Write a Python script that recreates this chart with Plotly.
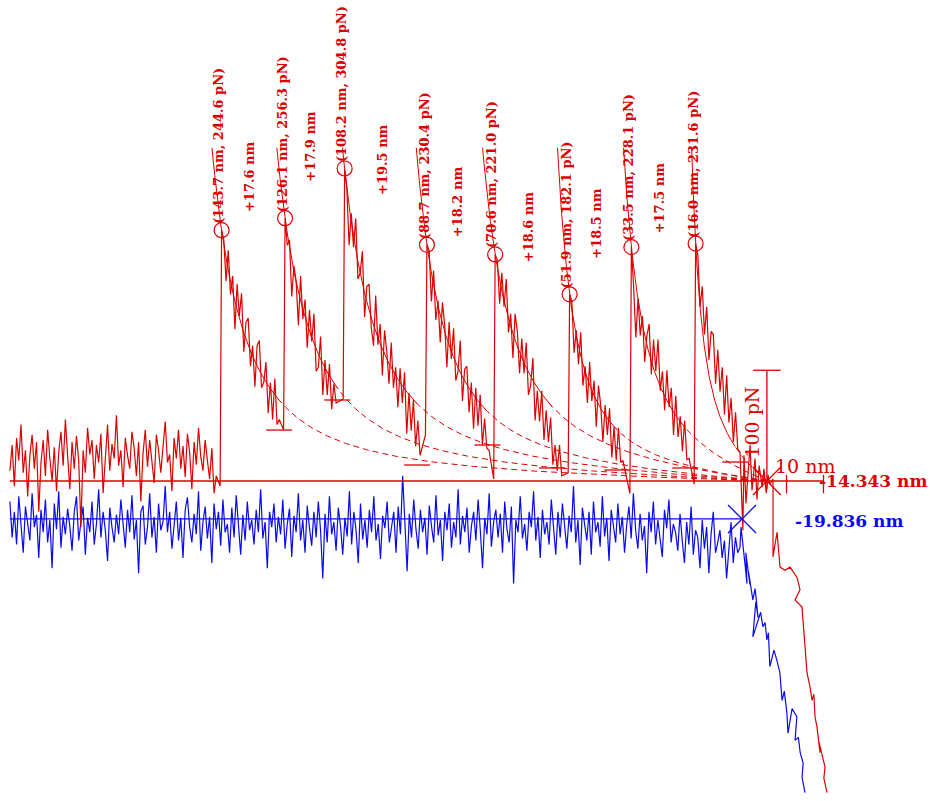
import numpy as np
import plotly.graph_objects as go

RED = "#dc0000"
BLUE = "#0a0af0"
FONT = "DejaVu Serif"

# ---- calibration / physical constants ----
K_CANTILEVER = 27.0   # pN/nm, piezo position z = separation + F/k
Z_CONTACT = 5.3       # nm, contact point
F_CLIP = 325.0        # pN, fits are drawn up to this force
STEP = 0.6            # nm, sampling step of the traces

# ---- unfolding peaks (separation nm, force pN) ----
S_PEAK = [143.7, 126.1, 108.2, 88.7, 70.6, 51.9, 33.5, 16.0]
F_PEAK = [244.6, 256.3, 304.8, 230.4, 221.0, 182.1, 228.1, 231.6]
DELTA_L = [17.6, 17.9, 19.5, 18.2, 18.6, 18.5, 17.5]
FIT_FORCE_SCALE = [12.5, 16.4, 21.0, 22.2, 32.5, 24.3, 50.0, 51.5]   # kT/p of each WLC fit
RISE_F = [-5, 50, 80, 45, 2, 8, -12, -3]
TICK_Z = [137.2, 121.5, 99.9, 80.9, 63.4, 45.8, 27.4, 13.9]
TICK_F = [49.7, 79.0, 15.6, 35.1, 12.7, 10.7, 12.7, 18.5]

# ---- retract trace (red) ----
RED_Z_START = 210.0
RED_LEFT = [10, 35, -5, 42, 20, 55, 8, 30, -15, 25,
            45, 12, 38, -30, 18, 40, 5, 50, 22, 0,
            33, -10, 28, 48, 15, 60, 25, -8, 38, 12,
            44, 20, -45, 30, 8, 52, 26, 40, 2, 35,
            18, 46, -12, 28, 55, 10, 36, 22, 64, 15,
            30, -6, 42, 25, 12, 48, 32, 5, 38, -20,
            27, 50, 14, 40, 20, -2, 45, 30, 8, 36,
            58, 18, 26, -10, 42, 22, 50, 12, 34, 4,
            46, 28, -8, 38, 16, 52, 24, 10, 40, 20,
            2, 32, -12, 5]

DECAYS = [
    [235, 195, 225, 182, 200, 148, 192, 161, 183, 126, 155, 159, 112, 132, 92, 132,
     137, 91, 96, 116, 66, 96, 60, 100, 55, 60],
    [230, 235, 180, 210, 194, 152, 200, 158, 177, 130, 167, 136, 163, 107, 111, 141,
     84, 118, 84, 114, 70, 95, 76],
    [285, 230, 261, 228, 256, 197, 203, 224, 160, 190, 192, 150, 132, 181, 133, 153,
     103, 147, 126, 95, 135, 91, 111, 72, 110, 76, 106, 46, 86, 49, 79, 34, 59, 25],
    [225, 175, 205, 157, 176, 135, 174, 152, 111, 155, 119, 149, 98, 107, 137, 78,
     109, 112, 67, 96, 51, 91, 54, 84, 35, 61, 32, 30],
    [215, 173, 203, 170, 197, 145, 163, 120, 163, 146, 105, 139, 105, 135, 84, 93,
     120, 59, 88, 58, 88, 40, 69, 38, 62, 16, 35, 10, 35, 5],
    [175, 125, 147, 114, 145, 93, 112, 76, 116, 78, 98, 53, 93, 74, 38, 74,
     45, 71, 23, 53, 20, 52, 18, 20],
    [190, 140, 178, 142, 161, 116, 142, 153, 104, 138, 107, 138, 88, 107, 69, 108,
     72, 91, 45, 83, 43, 63, 29, 59, 21, 22],
    [220, 170, 190, 143, 170, 118, 146, 143, 95, 128, 87, 111, 65, 103, 57, 81,
     38, 67, 31, 28],
]

RED_TAIL_Z = [11.8, 11.5, 10.95, 10.4, 9.87, 9.33, 8.5, 8.0, 7.4, 6.6, 6.1, 5.5, 5.0, 4.5,
              3.65, 3.65, 3.1, 2.57, 1.76, 0.41, -0.95, -2.84, -3.65, -2.3, -4.19, -4.6,
              -5.0, -5.54, -6.36, -6.9, -7.4, -7.71, -8.25, -9.06, -8.8, -10.41, -10.1, -10.95]
RED_TAIL_F = [-48, 25, -22, 12, 35, -9, 22, -18, 15, -6, 12, -12, 6, -3,
              2, -74, -62, -50, -84, -87, -84, -94, -106, -116, -123, -140,
              -165, -187, -201, -214, -208, -230, -240, -265, -255, -279, -290, -304]

# ---- approach trace (blue) ----
BLUE_Z_START = 210.0
BLUE_BASE = [
    -20, -55, -30, -62, -15, -48, -70, -25, -40, -58,
    -12, -45, -33, -75, -28, -50, -18, -60, -38, -85,
    -22, -47, -10, -65, -35, -52, -27, -44, -68, -30,
    -15, -58, -40, -25, -72, -36, -50, -20, -62, -42,
    -8, -55, -30, -48, -78, -26, -45, -60, -33, -52,
    -18, -40, -65, -28, -50, -14, -57, -38, -90, -30,
    -24, -62, -45, -12, -55, -35, -70, -22, -48, -40,
    -5, -50, -30, -66, -42, -20, -58, -36, -75, -28,
    -16, -45, -60, -32, -52, -10, -68, -40, -25, -56,
    -35, -80, -22, -47, -30, -63, -18, -50, -42, -70,
    -26, -55, -14, -44, -72, -33, -58, -20, -48, -38,
    -62, -28, -50, -8, -56, -40, -85, -30, -45, -22,
    -60, -35, -52, -18, -66, -42, -27, -74, -34, -50,
    -12, -58, -38, -70, -24, -46, -63, -30, -55, -20,
    -48, -95, -32, -60, -15, -52, -40, -68, -26, -44,
    -72, -36, -54, -10, -62, -30, -48, -80, -22, -57,
    -38, -65, -28, -50, -15, -58, -42, -76, -34, -46,
    -20, -60, -45, -30, -70, -25, -52, 5, -40, -88,
    -32, -55, -18, -47, -66, -28, -50, -36, -72, -24,
    -44, -60, -14, -53, -38, -78, -30, -48, -22, -65,
    -40, -55, -8, -62, -34, -50, -26, -70, -44, -30,
    -58, -18, -48, -85, -36, -52, -12, -64, -40, -28,
    -55, -32, -70, -20, -47, -60, -25, -100, -38, -50,
    -15, -56, -42, -68, -30, -45, -10, -58, -35, -75,
    -28, -52, -40, -62, -18, -48, -72, -30, -55, -22,
    -46, -66, -34, -50, -5, -60, -38, -82, -26, -45,
    -58, -30, -72, -20, -50, -40, -64, -15, -54, -36,
    -78, -28, -46, -60, -22, -52, -35, -70, -42, -25,
    -56, -12, -48, -66, -32, -58, -44, -90, -30, -50,
    -20, -62, -38, -55, -74, -28, -46, -18, -60, -42,
    -50, -68, -32, -58, -80, -40, -62, -25, -72, -48,
    -55, -85, -38, -66, -45, -90, -52, -30, -70, -60,
    -48, -75, -58, -95, -62, -40, -80, -55, -70, -65,
]
BLUE_TAIL_Z = [12.3, 11.5, 12.0, 11.2, 10.7, 11.0, 9.9, 10.3, 9.1, 8.5, 7.7, 8.3, 9.1, 7.0,
               6.4, 5.8, 5.3, 4.9, 4.5, 3.4, 2.6, 1.8, 1.2, 0.6, -0.1, -0.4, -1.5, -2.8,
               -2.3, -3.2, -3.7, -4.5, -4.2, -5.0]
BLUE_TAIL_F = [-45, -78, -55, -82, -100, -70, -101, -88, -116, -105, -133, -118, -152, -128,
               -142, -138, -155, -148, -181, -165, -175, -187, -214, -205, -226, -246, -222,
               -230, -253, -250, -265, -275, -289, -304]

RED_BASE_F = 0.0
BLUE_BASE_F = -37.0
BLUE_CROSS_Z = 12.03
RED_BASE_LABEL = "-14.343 nm"
BLUE_BASE_LABEL = "-19.836 nm"
SCALE_NM = 10
SCALE_PN = 100


def piezo(s, f):
    return s + f / K_CANTILEVER


def wlc_g(r):
    return 0.25 / (1.0 - r) ** 2 - 0.25 + r


def solve_r(target):
    lo, hi = 0.0, 0.999999
    for _ in range(80):
        mid = 0.5 * (lo + hi)
        if wlc_g(mid) < target:
            lo = mid
        else:
            hi = mid
    return 0.5 * (lo + hi)


Z_PEAK = [piezo(s, f) for s, f in zip(S_PEAK, F_PEAK)]

# assemble the retract trace
red_z = list(RED_Z_START - STEP * np.arange(len(RED_LEFT)))
red_f = list(RED_LEFT)
for zp, fp, rise, dec in zip(Z_PEAK, F_PEAK, RISE_F, DECAYS):
    red_z += [zp + 0.4, zp]
    red_f += [rise, fp]
    red_z += list(zp - STEP * (np.arange(len(dec)) + 1))
    red_f += dec
red_z += RED_TAIL_Z
red_f += RED_TAIL_F

blue_z = list(BLUE_Z_START - STEP * np.arange(len(BLUE_BASE))) + BLUE_TAIL_Z
blue_f = list(BLUE_BASE) + BLUE_TAIL_F

fig = go.Figure()
line_kw = dict(mode="lines", hoverinfo="skip", showlegend=False)

fig.add_trace(go.Scatter(x=blue_z, y=blue_f, line=dict(color=BLUE, width=1.2), **line_kw))
fig.add_trace(go.Scatter(x=[BLUE_Z_START, BLUE_CROSS_Z], y=[BLUE_BASE_F, BLUE_BASE_F],
                         line=dict(color=BLUE, width=1.3), **line_kw))
fig.add_trace(go.Scatter(x=red_z, y=red_f, line=dict(color=RED, width=1.2), **line_kw))
fig.add_trace(go.Scatter(x=[RED_Z_START, 0], y=[RED_BASE_F, RED_BASE_F],
                         line=dict(color=RED, width=1.3), **line_kw))

# worm-like-chain fits through every peak
for zp, fp, fs, zt in zip(Z_PEAK, F_PEAK, FIT_FORCE_SCALE, TICK_Z):
    xp = zp - Z_CONTACT
    L = xp / solve_r(fp / fs)
    r_top = solve_r(F_CLIP / fs)
    r = np.linspace(0, r_top, 400)
    zc = Z_CONTACT + r * L
    fc = fs * wlc_g(r)
    solid = zc >= zt
    fig.add_trace(go.Scatter(x=zc[solid], y=fc[solid], line=dict(color=RED, width=1), **line_kw))
    dashed = zc <= zt + 0.5
    fig.add_trace(go.Scatter(x=zc[dashed], y=fc[dashed],
                             line=dict(color=RED, width=1, dash="6px,4px"), **line_kw))

# minimum markers at the start of each fitted stretch
tx, ty = [], []
for zt, ft in zip(TICK_Z, TICK_F):
    tx += [zt + 3.5, zt - 3.5, None]
    ty += [ft, ft, None]
fig.add_trace(go.Scatter(x=tx, y=ty, line=dict(color=RED, width=1.3), **line_kw))

# peak circles
fig.add_trace(go.Scatter(x=Z_PEAK, y=F_PEAK, mode="markers", hoverinfo="skip", showlegend=False,
                         marker=dict(symbol="circle-open", size=15, color=RED,
                                     line=dict(width=1.2, color=RED))))

# contact crosses
fig.add_trace(go.Scatter(x=[Z_CONTACT], y=[RED_BASE_F], mode="markers", hoverinfo="skip",
                         showlegend=False,
                         marker=dict(symbol="x-thin-open", size=28, color=RED,
                                     line=dict(width=1.3, color=RED))))
fig.add_trace(go.Scatter(x=[BLUE_CROSS_Z], y=[BLUE_BASE_F], mode="markers", hoverinfo="skip",
                         showlegend=False,
                         marker=dict(symbol="x-thin-open", size=28, color=BLUE,
                                     line=dict(width=1.3, color=BLUE))))

# scale bars
fig.add_trace(go.Scatter(x=[Z_CONTACT, Z_CONTACT, None, Z_CONTACT + 3.7, Z_CONTACT - 3.7],
                         y=[-8, SCALE_PN + 8, None, SCALE_PN + 8, SCALE_PN + 8],
                         line=dict(color=RED, width=1.3), **line_kw))
fig.add_trace(go.Scatter(x=[0, -SCALE_NM, None, 0, 0, None, -SCALE_NM, -SCALE_NM],
                         y=[0, 0, None, 6, -12, None, 6, -12],
                         line=dict(color=RED, width=1.3), **line_kw))

ann = []
for zp, fp, s in zip(Z_PEAK, F_PEAK, S_PEAK):
    ann.append(dict(x=zp, y=fp, xref="x", yref="y", text=f"<b>({s:.1f} nm, {fp:.1f} pN)</b>",
                    textangle=-90, xanchor="center", yanchor="bottom", yshift=4, xshift=-3,
                    showarrow=False, font=dict(family=FONT, size=13, color=RED)))
for i, dl in enumerate(DELTA_L):
    zm = 0.5 * (Z_PEAK[i] + Z_PEAK[i + 1])
    fm = 0.5 * (F_PEAK[i] + F_PEAK[i + 1])
    ann.append(dict(x=zm, y=fm, xref="x", yref="y", text=f"<b>+{dl:.1f} nm</b>",
                    textangle=-90, xanchor="center", yanchor="bottom", yshift=10, xshift=-4,
                    showarrow=False, font=dict(family=FONT, size=13, color=RED)))
ann.append(dict(x=-SCALE_NM / 2, y=RED_BASE_F, xref="x", yref="y", text=f"{SCALE_NM} nm",
                xanchor="center", yanchor="bottom", yshift=2, showarrow=False,
                font=dict(family=FONT, size=19, color=RED)))
ann.append(dict(x=Z_CONTACT, y=SCALE_PN / 2, xref="x", yref="y", text=f"{SCALE_PN} pN",
                textangle=-90, xanchor="right", yanchor="middle", xshift=-2, yshift=8,
                showarrow=False, font=dict(family=FONT, size=19, color=RED)))
ann.append(dict(x=-8.3, y=RED_BASE_F, xref="x", yref="y", text=f"<b>{RED_BASE_LABEL}</b>",
                xanchor="left", yanchor="middle", showarrow=False,
                font=dict(family=FONT, size=17, color=RED)))
ann.append(dict(x=-1.8, y=BLUE_BASE_F - 2, xref="x", yref="y", text=f"<b>{BLUE_BASE_LABEL}</b>",
                xanchor="left", yanchor="middle", showarrow=False,
                font=dict(family=FONT, size=17, color=BLUE)))

fig.update_layout(
    width=930, height=801, margin=dict(l=0, r=0, t=0, b=0),
    paper_bgcolor="white", plot_bgcolor="white", showlegend=False,
    xaxis=dict(range=[212.68, -38.80], visible=False, showgrid=False, zeroline=False),
    yaxis=dict(range=[-312.1, 469.13], visible=False, showgrid=False, zeroline=False),
    annotations=ann,
)

fig.write_html("out.html", config={"displayModeBar": False})
